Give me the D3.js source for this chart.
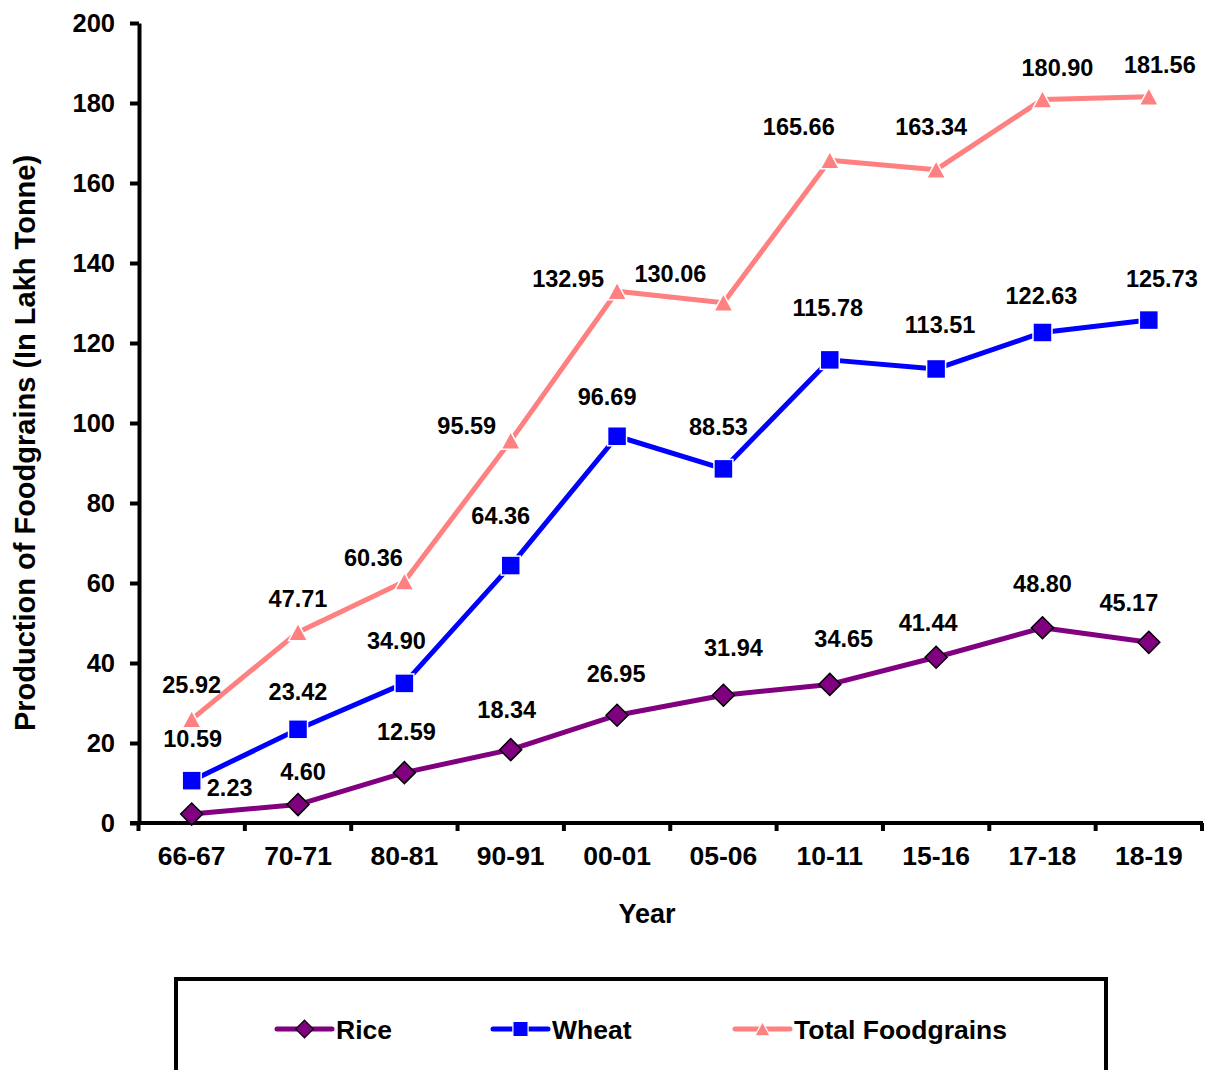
<!DOCTYPE html>
<html>
<head>
<meta charset="utf-8">
<script src="https://cdn.jsdelivr.net/npm/d3@7"></script>
<style>
  html, body { margin: 0; padding: 0; background: #fff; }
  svg { display: block; font-family: "Liberation Sans", Arial, sans-serif; font-weight: bold; }
</style>
</head>
<body>
<svg id="chart" width="1212" height="1070"></svg>
<script>
// ---- data ----
const categories = ["66-67", "70-71", "80-81", "90-91", "00-01", "05-06", "10-11", "15-16", "17-18", "18-19"];
const rice   = [2.23, 4.60, 12.59, 18.34, 26.95, 31.94, 34.65, 41.44, 48.80, 45.17];
const wheat  = [10.59, 23.42, 34.90, 64.36, 96.69, 88.53, 115.78, 113.51, 122.63, 125.73];
const total  = [25.92, 47.71, 60.36, 95.59, 132.95, 130.06, 165.66, 163.34, 180.90, 181.56];
const yTicks = [0, 20, 40, 60, 80, 100, 120, 140, 160, 180, 200];
const seriesNames = ["Rice", "Wheat", "Total Foodgrains"];
const yTitle = "Production of Foodgrains (In Lakh Tonne)";
const xTitle = "Year";

// label placement offsets (pixels from point to label centre)
const riceLabelOffsets  = [[38,-27],[5,-33],[2,-41],[-4,-40],[-1,-42],[10,-48],[14,-46],[-8,-35],[0,-44],[-20,-40]];
const wheatLabelOffsets = [[1,-42],[0,-38],[-8,-43],[-10,-50],[-10,-40],[-5,-42],[-2,-52],[4,-44],[-1,-37],[13,-42]];
const totalLabelOffsets = [[0,-35],[0,-34],[-31,-24],[-44,-15],[-49,-13],[-53,-29],[-31,-34],[-5,-43],[15,-32],[11,-32]];

// ---- layout ----
const svg = d3.select("#chart");
const x = d3.scaleBand().domain(categories).range([138.5, 1202]).paddingInner(0).paddingOuter(0);
const y = d3.scaleLinear().domain([0, 200]).range([823, 23]);
const cx = c => x(c) + x.bandwidth() / 2;

const colors = { Rice: "#800080", Wheat: "#0000FF", "Total Foodgrains": "#FF8080" };

// y axis
const yAxis = svg.append("g").attr("transform", "translate(139,0)")
  .call(d3.axisLeft(y).tickValues(yTicks).tickSize(9).tickSizeOuter(0).tickPadding(15));
yAxis.select(".domain").attr("stroke", "#000").attr("stroke-width", 4);
yAxis.selectAll(".tick line").attr("stroke", "#000").attr("stroke-width", 4);
yAxis.selectAll(".tick text").attr("font-size", 25.5).attr("font-family", "Liberation Sans, Arial, sans-serif")
  .attr("font-weight", "bold").attr("fill", "#000");

// x axis
const xAxis = svg.append("g").attr("transform", "translate(0,823)")
  .call(d3.axisBottom(x).tickSize(0).tickSizeOuter(0).tickPadding(23));
xAxis.select(".domain").remove();
xAxis.selectAll(".tick text").attr("font-size", 26.5).attr("font-family", "Liberation Sans, Arial, sans-serif")
  .attr("font-weight", "bold").attr("fill", "#000");
svg.append("line").attr("x1", 130).attr("x2", 1203).attr("y1", 823).attr("y2", 823)
  .attr("stroke", "#000").attr("stroke-width", 4);
const boundaries = [x(categories[0])].concat(categories.map(c => x(c) + x.bandwidth()));
svg.append("g").selectAll("line").data(boundaries).join("line")
  .attr("x1", d => d).attr("x2", d => d).attr("y1", 823).attr("y2", 831)
  .attr("stroke", "#000").attr("stroke-width", 4);

// axis titles
svg.append("text").attr("transform", "translate(35,443) rotate(-90)")
  .attr("text-anchor", "middle").attr("font-size", 29).attr("fill", "#000").text(yTitle);
svg.append("text").attr("x", 647).attr("y", 923).attr("text-anchor", "middle")
  .attr("font-size", 27).attr("fill", "#000").text(xTitle);

// markers
const diamondPath = "M0,-11L11,0L0,11L-11,0Z";
const trianglePath = "M0,-9L9.5,8.5L-9.5,8.5Z";
function drawMarker(g, name) {
  if (name === "Rice") {
    g.append("path").attr("d", diamondPath).attr("fill", colors.Rice).attr("stroke", "#000").attr("stroke-width", 1.5);
  } else if (name === "Wheat") {
    g.append("rect").attr("x", -9.5).attr("y", -9.5).attr("width", 19).attr("height", 19)
      .attr("fill", colors.Wheat).attr("stroke", "#fff").attr("stroke-width", 1.5);
  } else {
    g.append("path").attr("d", trianglePath).attr("fill", colors["Total Foodgrains"]).attr("stroke", "#fff").attr("stroke-width", 1.5);
  }
}

const series = [
  { name: "Total Foodgrains", values: total, offsets: totalLabelOffsets },
  { name: "Wheat", values: wheat, offsets: wheatLabelOffsets },
  { name: "Rice", values: rice, offsets: riceLabelOffsets }
];
const line = d3.line().x((d, i) => cx(categories[i])).y(d => y(d));
const fmt = d3.format(".2f");

series.forEach(s => {
  const g = svg.append("g");
  g.append("path").datum(s.values).attr("d", line).attr("fill", "none")
    .attr("stroke", colors[s.name]).attr("stroke-width", 5).attr("stroke-linejoin", "round");
  g.selectAll("g.m").data(s.values).join("g").attr("class", "m")
    .attr("transform", (d, i) => `translate(${cx(categories[i])},${y(d)})`)
    .each(function () { drawMarker(d3.select(this), s.name); });
});
series.forEach(s => {
  svg.append("g").selectAll("text").data(s.values).join("text")
    .attr("x", (d, i) => cx(categories[i]) + s.offsets[i][0])
    .attr("y", (d, i) => y(d) + s.offsets[i][1])
    .attr("dy", "0.36em").attr("text-anchor", "middle").attr("font-size", 23.5).attr("fill", "#000")
    .text(d => fmt(d));
});

// legend
svg.append("rect").attr("x", 176).attr("y", 979).attr("width", 930).attr("height", 130)
  .attr("fill", "#fff").attr("stroke", "#000").attr("stroke-width", 4);
const legendX = [277, 493, 735];
seriesNames.forEach((n, i) => {
  const g = svg.append("g").attr("transform", `translate(${legendX[i]},1029)`);
  g.append("line").attr("x1", 0).attr("x2", 55).attr("y1", 0).attr("y2", 0)
    .attr("stroke", colors[n]).attr("stroke-width", 5).attr("stroke-linecap", "round");
  const m = g.append("g").attr("transform", "translate(27.5,0) scale(0.8)");
  drawMarker(m, n);
  g.append("text").attr("x", 59).attr("y", 0).attr("dy", "0.36em").attr("font-size", 26.5)
    .attr("fill", "#000").text(n);
});
</script>
</body>
</html>
